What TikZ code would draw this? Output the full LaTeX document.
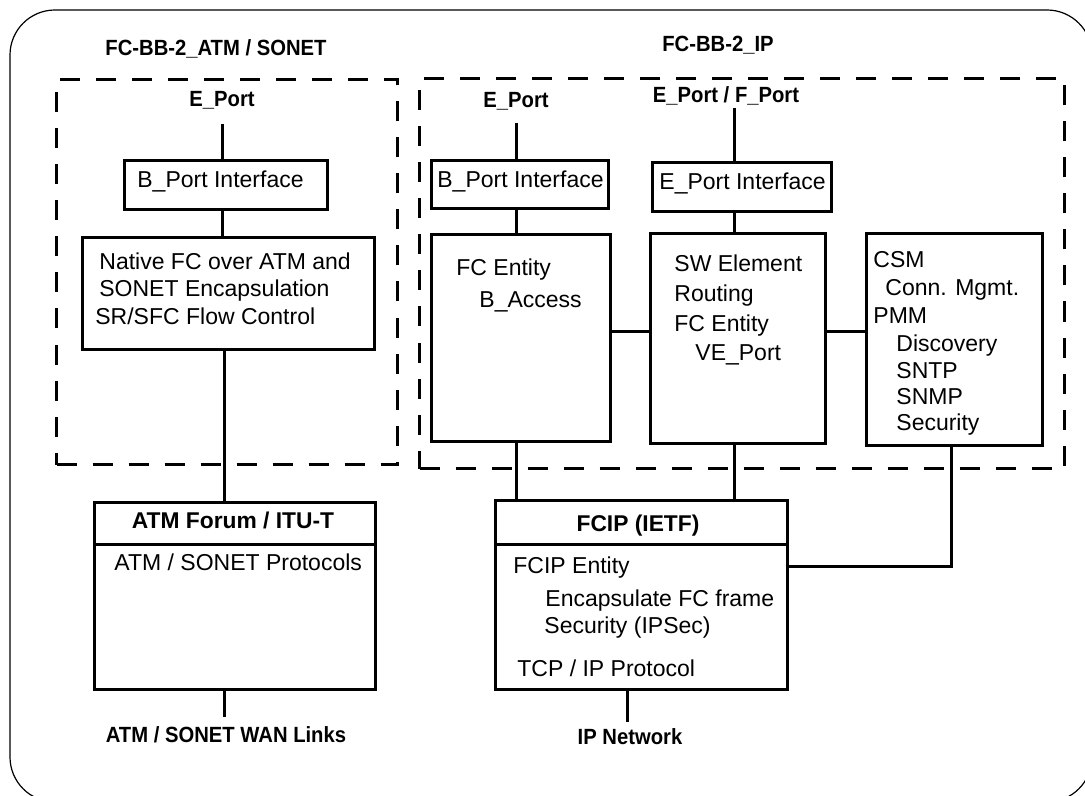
\documentclass[tikz,border=0pt]{standalone}
\usepackage{fontspec}
\setmainfont{Liberation Sans}
\newfontfamily\nbold[FakeStretch=0.92]{Liberation Sans}
\begin{document}
\begin{tikzpicture}[x=0.5pt,y=-0.5pt,
  box/.style={draw, line width=1.5pt, inner sep=0pt, anchor=north west},
  dbox/.style={draw, line width=1.5pt, inner sep=0pt, anchor=north west, dash pattern=on 10pt off 8pt},
  conn/.style={line width=1.5pt},
  txt/.style={anchor=base west, inner sep=0pt, font=\fontsize{11.5pt}{14pt}\selectfont},
  hdr/.style={anchor=base, inner sep=0pt, font=\bfseries\fontsize{11.4pt}{14pt}\selectfont},
  lab/.style={anchor=base, inner sep=0pt, font=\nbold\bfseries\fontsize{11pt}{13pt}\selectfont}]
\clip (0,0) rectangle (1085,796);
\fill[white] (0,0) rectangle (1085,796);
% outer frame
\draw[line width=0.6pt, rounded corners=22.5pt] (10,10) rectangle (1092,802);
% dashed groups
\node[dbox, minimum width=170.5pt, minimum height=192.5pt] (dl) at (55,78) {};
\node[dbox, minimum width=322.5pt, minimum height=195pt] (dr) at (418,77) {};
% titles
\node[lab] (t1) at (216,56) {FC-BB-2\_ATM / SONET};
\node[lab] (t2) at (718,52) {FC-BB-2\_IP};
% port labels
\node[lab] (pl1) at (222,107) {E\_Port};
\node[lab] (pl2) at (516,108) {E\_Port};
\node[lab] (pl3) at (726,103) {E\_Port / F\_Port};
\node[lab] (pl4) at (226,742) {ATM / SONET WAN Links};
\node[lab] (pl5) at (630,744) {IP Network};
% boxes
\node[box, minimum width=101.5pt, minimum height=24.5pt] (bpl) at (123,159) {};
\node[box, minimum width=146pt, minimum height=56pt] (nat) at (81,236) {};
\node[box, minimum width=140.5pt, minimum height=21pt] (atmh) at (93,501) {};
\node[box, minimum width=140.5pt, minimum height=72.5pt] (atmb) at (93,543) {};
\node[box, minimum width=88.5pt, minimum height=24pt] (bpr) at (430,159) {};
\node[box, minimum width=89.5pt, minimum height=24.5pt] (epi) at (651,161) {};
\node[box, minimum width=89.5pt, minimum height=103.5pt] (fce) at (430,233) {};
\node[box, minimum width=87.5pt, minimum height=105pt] (sw) at (649,232) {};
\node[box, minimum width=88pt, minimum height=106pt] (csm) at (865,232) {};
\node[box, minimum width=146pt, minimum height=22pt] (fciph) at (494,499) {};
\node[box, minimum width=146pt, minimum height=72.5pt] (fcipb) at (494,543) {};
% box texts
\node[txt] (a1) at (137,188) {B\_Port Interface};
\node[txt] (a2) at (99,270) {Native FC over ATM and};
\node[txt] (a3) at (99,297) {SONET Encapsulation};
\node[txt] (a4) at (95,324) {SR/SFC Flow Control};
\node[hdr] (a5) at (233,528) {ATM Forum / ITU-T};
\node[txt] (a6) at (114,570) {ATM / SONET Protocols};
\node[txt] (b1) at (437,188) {B\_Port Interface};
\node[txt] (b2) at (659,190) {E\_Port Interface};
\node[txt] (b3) at (456,276) {FC Entity};
\node[txt] (b4) at (479,307) {B\_Access};
\node[txt] (c1) at (674,271) {SW Element};
\node[txt] (c2) at (674,301) {Routing};
\node[txt] (c3) at (674,331) {FC Entity};
\node[txt] (c4) at (695,360) {VE\_Port};
\node[txt] (d1) at (873,268) {CSM};
\node[txt] (d2) at (885,296) {Conn. Mgmt.};
\node[txt] (d3) at (873,323) {PMM};
\node[txt] (d4) at (896,351) {Discovery};
\node[txt] (d5) at (896,378) {SNTP};
\node[txt] (d6) at (896,404) {SNMP};
\node[txt] (d7) at (896,430) {Security};
\node[hdr] (e1) at (638,531) {FCIP (IETF)};
\node[txt] (e2) at (513,573) {FCIP Entity};
\node[txt] (e3) at (545,606) {Encapsulate FC frame};
\node[txt] (e4) at (544,633) {Security (IPSec)};
\node[txt] (e5) at (517,676) {TCP / IP Protocol};
% connector helper coordinates
\coordinate (ep1) at (222,124);
\coordinate (ep2) at (516,123);
\coordinate (ep3) at (734,108);
\coordinate (xl) at (224,0);
\coordinate (xd) at (951,0);
\coordinate (xe) at (627,0);
\coordinate (yh) at (0,331);
\coordinate (yk) at (0,566);
\coordinate (wan) at (224,717);
\coordinate (ipn) at (627,722);
% connectors
\draw[conn] (ep1) -- (bpl.north -| ep1);
\draw[conn] (bpl.south -| ep1) -- (nat.north -| ep1);
\draw[conn] (nat.south -| xl) -- (atmh.north -| xl);
\draw[conn] (atmb.south -| xl) -- (wan);
\draw[conn] (ep2) -- (bpr.north -| ep2);
\draw[conn] (bpr.south -| ep2) -- (fce.north -| ep2);
\draw[conn] (fce.south -| ep2) -- (fciph.north -| ep2);
\draw[conn] (ep3) -- (epi.north -| ep3);
\draw[conn] (epi.south -| ep3) -- (sw.north -| ep3);
\draw[conn] (sw.south -| ep3) -- (fciph.north -| ep3);
\draw[conn] (fce.east |- yh) -- (sw.west |- yh);
\draw[conn] (sw.east |- yh) -- (csm.west |- yh);
\draw[conn] (csm.south -| xd) |- (fcipb.east |- yk);
\draw[conn] (fcipb.south -| xe) -- (ipn);
\end{tikzpicture}
\end{document}
